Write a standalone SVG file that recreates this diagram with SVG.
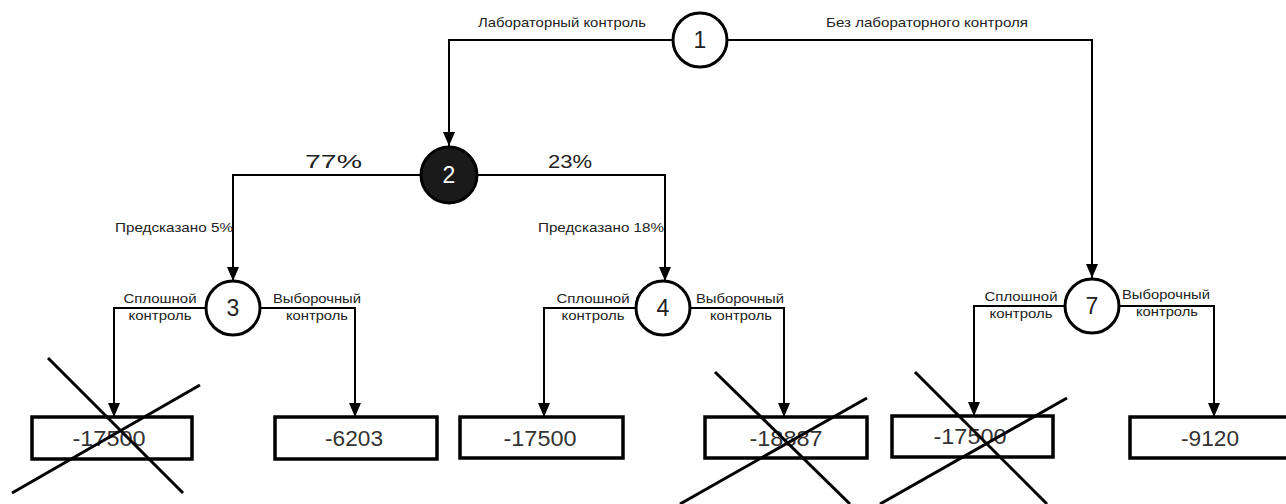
<svg xmlns="http://www.w3.org/2000/svg" width="1286" height="504" viewBox="0 0 1286 504">
  <defs>
    <marker id="arrow" viewBox="0 0 14 12" refX="14" refY="6" markerWidth="14" markerHeight="12" markerUnits="userSpaceOnUse" orient="auto">
      <path d="M0,0 L14,6 L0,12 Z" fill="#000"/>
    </marker>
    <style>
      .link { fill: none; stroke: #000; stroke-width: 2; }
      .down { marker-end: url(#arrow); }
      .node { fill: #fff; stroke: #000; stroke-width: 3; }
      .dark { fill: #1a1a1a; stroke: #000; stroke-width: 3; }
      .box { fill: #fff; stroke: #000; stroke-width: 3.5; }
      .cross { stroke: #000; stroke-width: 3; stroke-linecap: butt; }
      text { font-family: "Liberation Sans", Arial, sans-serif; fill: #222; }
      .num { font-size: 23px; text-anchor: middle; }
      .val { font-size: 22px; text-anchor: middle; fill: #333; }
      .lbl { font-size: 13px; }
      .pct { font-size: 19px; }
    </style>
  </defs>

  <!-- connectors -->
  <g id="connectors">
    <path class="link down" d="M672,40 H449 V146"/>
    <path class="link down" d="M728,40 H1092 V278"/>
    <path class="link down" d="M420,175 H233 V281"/>
    <path class="link down" d="M477,175 H665 V281"/>
    <path class="link down" d="M206,308 H114 V417"/>
    <path class="link down" d="M260,308 H355 V417"/>
    <path class="link down" d="M636,308 H544 V417"/>
    <path class="link down" d="M690,308 H784 V417"/>
    <path class="link down" d="M1065,306 H974 V416"/>
    <path class="link down" d="M1119,306 H1214 V417"/>

    <text class="lbl" x="646" y="27" text-anchor="end" textLength="168" lengthAdjust="spacingAndGlyphs">Лабораторный контроль</text>
    <text class="lbl" x="826" y="27" textLength="202" lengthAdjust="spacingAndGlyphs">Без лабораторного контроля</text>
    <text class="pct" x="305" y="168" textLength="57" lengthAdjust="spacingAndGlyphs">77%</text>
    <text class="pct" x="548" y="168" textLength="44" lengthAdjust="spacingAndGlyphs">23%</text>
    <text class="lbl" x="233" y="232" text-anchor="end" textLength="118" lengthAdjust="spacingAndGlyphs">Предсказано 5%</text>
    <text class="lbl" x="664" y="232" text-anchor="end" textLength="126" lengthAdjust="spacingAndGlyphs">Предсказано 18%</text>

    <text class="lbl" x="160" y="303" text-anchor="middle" textLength="73" lengthAdjust="spacingAndGlyphs">Сплошной</text>
    <text class="lbl" x="160" y="320" text-anchor="middle" textLength="63" lengthAdjust="spacingAndGlyphs">контроль</text>
    <text class="lbl" x="317" y="303" text-anchor="middle" textLength="88" lengthAdjust="spacingAndGlyphs">Выборочный</text>
    <text class="lbl" x="317" y="320" text-anchor="middle" textLength="62" lengthAdjust="spacingAndGlyphs">контроль</text>

    <text class="lbl" x="593" y="303" text-anchor="middle" textLength="73" lengthAdjust="spacingAndGlyphs">Сплошной</text>
    <text class="lbl" x="593" y="320" text-anchor="middle" textLength="63" lengthAdjust="spacingAndGlyphs">контроль</text>
    <text class="lbl" x="740" y="303" text-anchor="middle" textLength="88" lengthAdjust="spacingAndGlyphs">Выборочный</text>
    <text class="lbl" x="741" y="320" text-anchor="middle" textLength="62" lengthAdjust="spacingAndGlyphs">контроль</text>

    <text class="lbl" x="1021" y="301" text-anchor="middle" textLength="73" lengthAdjust="spacingAndGlyphs">Сплошной</text>
    <text class="lbl" x="1021" y="318" text-anchor="middle" textLength="63" lengthAdjust="spacingAndGlyphs">контроль</text>
    <text class="lbl" x="1166" y="299" text-anchor="middle" textLength="88" lengthAdjust="spacingAndGlyphs">Выборочный</text>
    <text class="lbl" x="1167" y="316" text-anchor="middle" textLength="62" lengthAdjust="spacingAndGlyphs">контроль</text>
  </g>

  <!-- decision nodes -->
  <g id="node-1">
    <circle class="node" cx="700" cy="40" r="27"/>
    <text class="num" x="700" y="48">1</text>
  </g>
  <g id="node-2">
    <circle class="dark" cx="449" cy="175" r="28"/>
    <text class="num" x="449" y="183" style="fill:#fff">2</text>
  </g>
  <g id="node-3">
    <circle class="node" cx="233" cy="308" r="27"/>
    <text class="num" x="233" y="316">3</text>
  </g>
  <g id="node-4">
    <circle class="node" cx="663" cy="308" r="27"/>
    <text class="num" x="663" y="316">4</text>
  </g>
  <g id="node-7">
    <circle class="node" cx="1092" cy="306" r="27"/>
    <text class="num" x="1092" y="314">7</text>
  </g>

  <!-- outcome boxes -->
  <g id="outcome-3a">
    <rect class="box" x="32" y="417" width="160" height="42"/>
    <text class="val" x="109" y="446" textLength="73" lengthAdjust="spacingAndGlyphs">-17500</text>
  </g>
  <g id="outcome-3b">
    <rect class="box" x="275" y="417" width="162" height="42"/>
    <text class="val" x="354" y="446" textLength="58" lengthAdjust="spacingAndGlyphs">-6203</text>
  </g>
  <g id="outcome-4a">
    <rect class="box" x="460" y="417" width="163" height="41"/>
    <text class="val" x="540" y="446" textLength="73" lengthAdjust="spacingAndGlyphs">-17500</text>
  </g>
  <g id="outcome-4b">
    <rect class="box" x="705" y="417" width="162" height="41"/>
    <text class="val" x="786" y="446" textLength="73" lengthAdjust="spacingAndGlyphs">-18887</text>
  </g>
  <g id="outcome-7a">
    <rect class="box" x="892" y="416" width="161" height="41"/>
    <text class="val" x="970" y="444" textLength="73" lengthAdjust="spacingAndGlyphs">-17500</text>
  </g>
  <g id="outcome-7b">
    <rect class="box" x="1130" y="417" width="160" height="41"/>
    <text class="val" x="1210" y="446" textLength="58" lengthAdjust="spacingAndGlyphs">-9120</text>
  </g>

  <!-- rejected alternatives crossed out -->
  <g id="crosses">
    <line class="cross" x1="48" y1="358" x2="183" y2="493"/>
    <line class="cross" x1="12" y1="493" x2="200" y2="385"/>
    <line class="cross" x1="715" y1="372" x2="850" y2="504"/>
    <line class="cross" x1="680" y1="504" x2="867" y2="398"/>
    <line class="cross" x1="915" y1="372" x2="1047" y2="504"/>
    <line class="cross" x1="880" y1="504" x2="1067" y2="398"/>
  </g>
</svg>
